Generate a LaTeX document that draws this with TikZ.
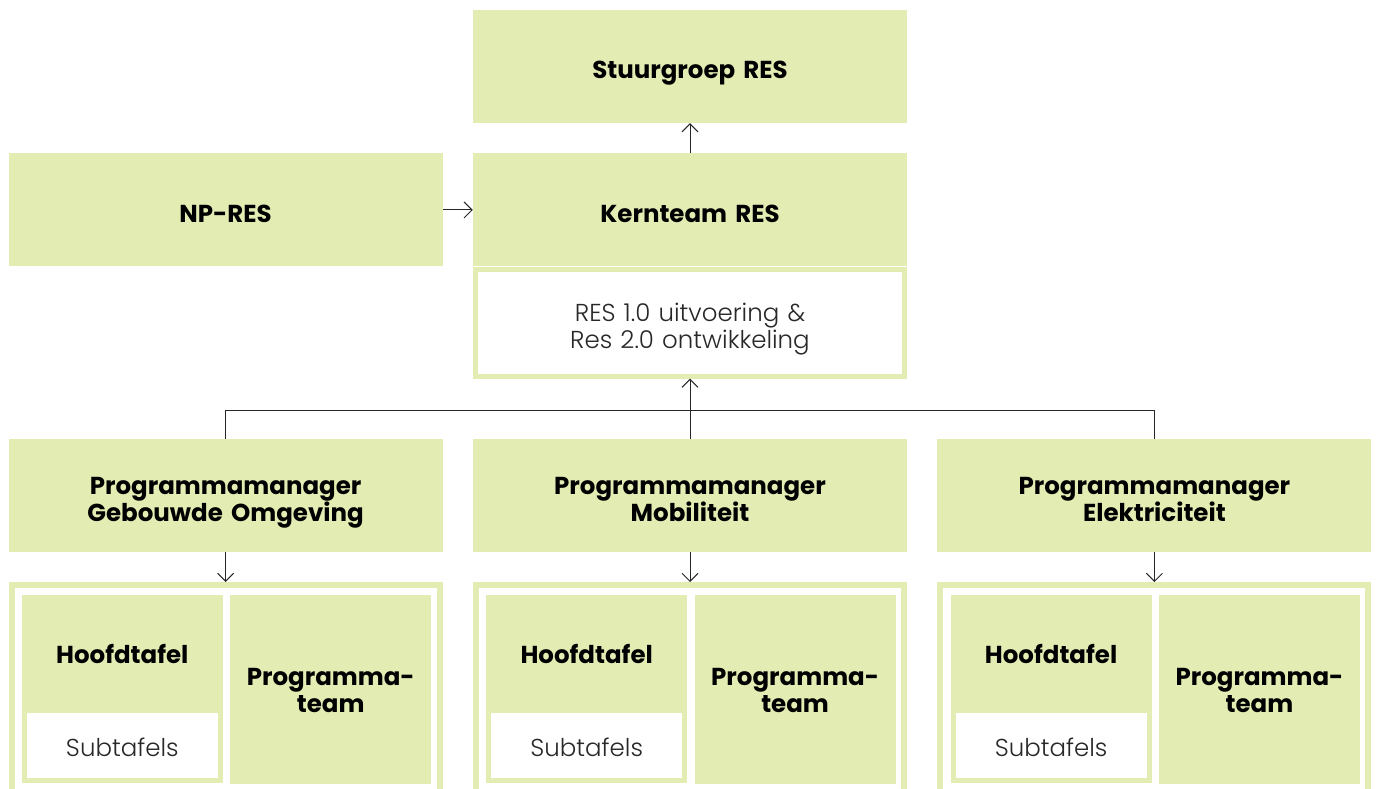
\documentclass[tikz,border=0pt]{standalone}
\usepackage{fontspec}
\setmainfont{Poppins}
\newfontfamily\lightfont{Poppins Light}
\usetikzlibrary{positioning,arrows.meta}
\definecolor{resgreen}{RGB}{227,236,179}
\definecolor{textgrey}{RGB}{40,40,40}
\newcommand{\topstrut}{\rule{0pt}{32pt}}
\newcommand{\celltopstrut}{\rule{0pt}{26pt}}
\newcommand{\botstrut}{\rule[-7pt]{0pt}{7pt}}

\begin{document}
\begin{tikzpicture}[
    x=1pt, y=-1pt,
    node distance=30pt,
    box/.style={rectangle, fill=resgreen, minimum width=434pt, minimum height=113pt, inner sep=0pt, text width=430pt, align=center, font=\fontsize{24.5}{26.7}\selectfont\bfseries, execute at begin node=\topstrut, execute at end node=\botstrut},
    task/.style={rectangle, fill=white, draw=resgreen, line width=5pt, minimum width=429pt, minimum height=107pt, inner sep=0pt, text width=420pt, align=center, text=textgrey, font=\fontsize{24.5}{26.7}\selectfont\lightfont, execute at begin node=\topstrut, execute at end node=\botstrut},
    frame/.style={rectangle, draw=resgreen, line width=6pt, minimum width=428pt, minimum height=213pt, inner sep=0pt},
    cell/.style={rectangle, fill=resgreen, minimum width=201pt, inner sep=0pt, text width=199pt, align=center, font=\fontsize{24.5}{26.7}\selectfont\bfseries, execute at begin node=\celltopstrut, execute at end node=\botstrut},
    subcell/.style={rectangle, fill=white, draw=resgreen, line width=5pt, minimum width=196pt, minimum height=70pt, inner sep=0pt, text=textgrey, font=\fontsize{24.5}{26.7}\selectfont\lightfont, execute at begin node=\rule{0pt}{28pt}\botstrut},
    arrow/.style={-{Straight Barb[length=8pt,width=16pt]}, line width=1pt, draw=black!85},
    link/.style={line width=1pt, draw=black!85}
]
\useasboundingbox (0,0) rectangle (1376,789);

% Top
\node[box] (stuur) at (690,66.5) {Stuurgroep RES};
\node[box, below=30pt of stuur] (kern) {Kernteam RES};
\node[box, left=30pt of kern] (np) {NP-RES};
\node[task, below=0pt of kern] (task) {RES 1.0 uitvoering \&\\Res 2.0 ontwikkeling};

% Programmamanagers
\node[box, below=60pt of task] (pmmob) {Programmamanager\\Mobiliteit};
\node[box, left=30pt of pmmob] (pmgeb) {Programmamanager\\Gebouwde Omgeving};
\node[box, right=30pt of pmmob] (pmelek) {Programmamanager\\Elektriciteit};

% Frames
\node[frame, below=30pt of pmgeb] (frmgeb) {};
\node[frame, below=30pt of pmmob] (frmmob) {};
\node[frame, below=30pt of pmelek] (frmelek) {};

% Gebouwde Omgeving
\node[cell, minimum height=118pt, below right=13pt and 13pt of frmgeb.north west] (hoofdgeb) {Hoofdtafel};
\node[subcell, below=-5pt of hoofdgeb] (subgeb) {Subtafels};
\node[cell, minimum height=189pt, below right=0pt and 7pt of hoofdgeb.north east] (teamgeb) {Programma-\\team};

% Mobiliteit
\node[cell, minimum height=118pt, below right=13pt and 13pt of frmmob.north west] (hoofdmob) {Hoofdtafel};
\node[subcell, below=-5pt of hoofdmob] (submob) {Subtafels};
\node[cell, minimum height=189pt, below right=0pt and 7pt of hoofdmob.north east] (teammob) {Programma-\\team};

% Elektriciteit
\node[cell, minimum height=118pt, below right=13pt and 13pt of frmelek.north west] (hoofdelek) {Hoofdtafel};
\node[subcell, below=-5pt of hoofdelek] (subelek) {Subtafels};
\node[cell, minimum height=189pt, below right=0pt and 7pt of hoofdelek.north east] (teamelek) {Programma-\\team};

% Arrows
\coordinate[above=28pt of pmmob.north] (joint);
\draw[arrow] (kern) -- (stuur);
\draw[arrow] (np) -- (kern);
\draw[arrow] (pmmob) -- (task);
\draw[link] (pmgeb.north) |- (joint) -| (pmelek.north);

\draw[arrow] (pmgeb) -- (frmgeb);
\draw[arrow] (pmmob) -- (frmmob);
\draw[arrow] (pmelek) -- (frmelek);

\end{tikzpicture}
\end{document}
